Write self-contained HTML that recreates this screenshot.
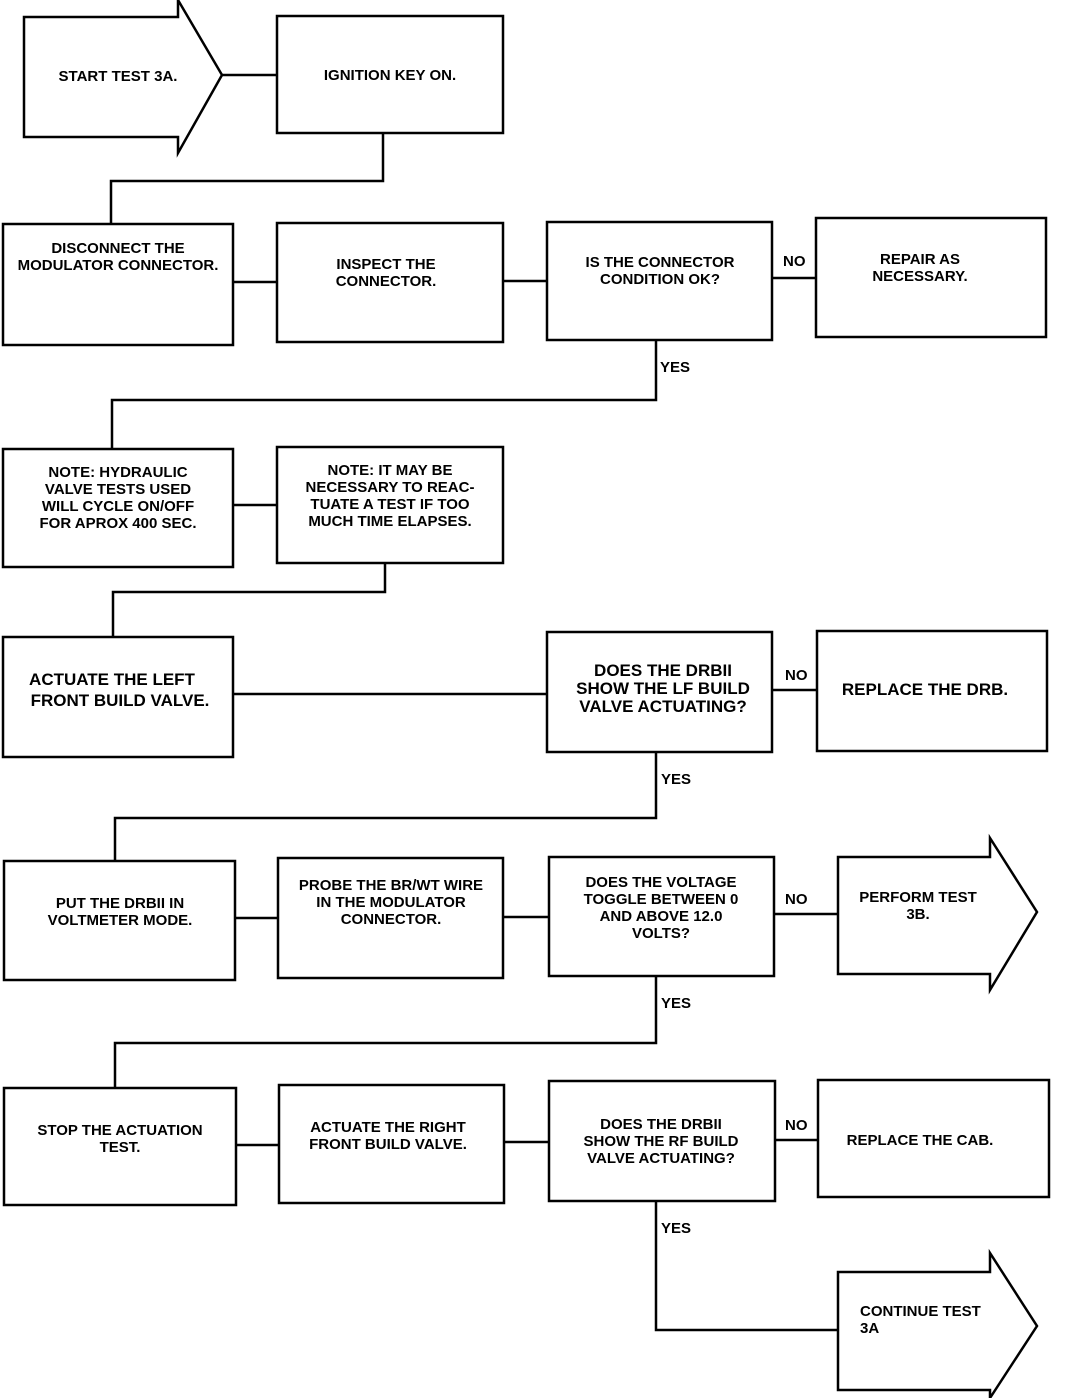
<!DOCTYPE html>
<html><head><meta charset="utf-8"><style>
html,body{margin:0;padding:0;background:#fff;}
svg{display:block}
text{font-family:"Liberation Sans",sans-serif;font-weight:bold;fill:#000;}
.s{font-size:15px;}
.b{font-size:17px;}
</style></head><body>
<svg width="1072" height="1398" viewBox="0 0 1072 1398" xmlns="http://www.w3.org/2000/svg">
<g fill="none" stroke="#000" stroke-width="2.5">
<!-- start arrow -->
<polygon points="24,17 178,17 178,0 222,75 178,153 178,137 24,137"/>
<rect x="277" y="16" width="226" height="117"/>
<line x1="222" y1="75" x2="277" y2="75"/>
<polyline points="383,133 383,181 111,181 111,224"/>
<!-- row 2 -->
<rect x="3" y="224" width="230" height="121"/>
<rect x="277" y="223" width="226" height="119"/>
<rect x="547" y="222" width="225" height="118"/>
<rect x="816" y="218" width="230" height="119"/>
<line x1="233" y1="282" x2="277" y2="282"/>
<line x1="503" y1="281" x2="547" y2="281"/>
<line x1="772" y1="278" x2="816" y2="278"/>
<polyline points="656,340 656,400 112,400 112,449"/>
<!-- row 3 -->
<rect x="3" y="449" width="230" height="118"/>
<rect x="277" y="447" width="226" height="116"/>
<line x1="233" y1="505" x2="277" y2="505"/>
<polyline points="385,563 385,592 113,592 113,637"/>
<!-- row 4 -->
<rect x="3" y="637" width="230" height="120"/>
<rect x="547" y="632" width="225" height="120"/>
<rect x="817" y="631" width="230" height="120"/>
<line x1="233" y1="694" x2="547" y2="694"/>
<line x1="772" y1="690" x2="817" y2="690"/>
<polyline points="656,752 656,818 115,818 115,861"/>
<!-- row 5 -->
<rect x="4" y="861" width="231" height="119"/>
<rect x="278" y="858" width="225" height="120"/>
<rect x="549" y="857" width="225" height="119"/>
<polygon points="838,857 990,857 990,838 1037,912 990,990 990,974 838,974"/>
<line x1="235" y1="918" x2="278" y2="918"/>
<line x1="503" y1="917" x2="549" y2="917"/>
<line x1="774" y1="914" x2="838" y2="914"/>
<polyline points="656,976 656,1043 115,1043 115,1088"/>
<!-- row 6 -->
<rect x="4" y="1088" width="232" height="117"/>
<rect x="279" y="1085" width="225" height="118"/>
<rect x="549" y="1081" width="226" height="120"/>
<rect x="818" y="1080" width="231" height="117"/>
<line x1="236" y1="1145" x2="279" y2="1145"/>
<line x1="504" y1="1142" x2="549" y2="1142"/>
<line x1="775" y1="1140" x2="818" y2="1140"/>
<polyline points="656,1201 656,1330 838,1330"/>
<polygon points="838,1272 990,1272 990,1253 1037,1326 990,1398 990,1390 838,1390"/>
</g>
<g class="s" text-anchor="middle">
<text x="118" y="81">START TEST 3A.</text>
<text x="390" y="80">IGNITION KEY ON.</text>
<text x="118" y="253">DISCONNECT THE</text>
<text x="118" y="270">MODULATOR CONNECTOR.</text>
<text x="386" y="269">INSPECT THE</text>
<text x="386" y="286">CONNECTOR.</text>
<text x="660" y="267">IS THE CONNECTOR</text>
<text x="660" y="284">CONDITION OK?</text>
<text x="920" y="264">REPAIR AS</text>
<text x="920" y="281">NECESSARY.</text>
<text x="118" y="477">NOTE: HYDRAULIC</text>
<text x="118" y="494">VALVE TESTS USED</text>
<text x="118" y="511">WILL CYCLE ON/OFF</text>
<text x="118" y="528">FOR APROX 400 SEC.</text>
<text x="390" y="475">NOTE: IT MAY BE</text>
<text x="390" y="492">NECESSARY TO REAC-</text>
<text x="390" y="509">TUATE A TEST IF TOO</text>
<text x="390" y="526">MUCH TIME ELAPSES.</text>
<text x="120" y="908">PUT THE DRBII IN</text>
<text x="120" y="925">VOLTMETER MODE.</text>
<text x="391" y="890">PROBE THE BR/WT WIRE</text>
<text x="391" y="907">IN THE MODULATOR</text>
<text x="391" y="924">CONNECTOR.</text>
<text x="661" y="887">DOES THE VOLTAGE</text>
<text x="661" y="904">TOGGLE BETWEEN 0</text>
<text x="661" y="921">AND ABOVE 12.0</text>
<text x="661" y="938">VOLTS?</text>
<text x="918" y="902">PERFORM TEST</text>
<text x="918" y="919">3B.</text>
<text x="120" y="1135">STOP THE ACTUATION</text>
<text x="120" y="1152">TEST.</text>
<text x="388" y="1132">ACTUATE THE RIGHT</text>
<text x="388" y="1149">FRONT BUILD VALVE.</text>
<text x="661" y="1129">DOES THE DRBII</text>
<text x="661" y="1146">SHOW THE RF BUILD</text>
<text x="661" y="1163">VALVE ACTUATING?</text>
<text x="920" y="1145">REPLACE THE CAB.</text>
</g>
<g class="s">
<text x="860" y="1316">CONTINUE TEST</text>
<text x="860" y="1333">3A</text>
<text x="783" y="266">NO</text>
<text x="660" y="372">YES</text>
<text x="785" y="680">NO</text>
<text x="661" y="784">YES</text>
<text x="785" y="904">NO</text>
<text x="661" y="1008">YES</text>
<text x="785" y="1130">NO</text>
<text x="661" y="1233">YES</text>
</g>
<g class="b" text-anchor="middle">
<text x="112" y="685">ACTUATE THE LEFT</text>
<text x="120" y="706">FRONT BUILD VALVE.</text>
<text x="663" y="676">DOES THE DRBII</text>
<text x="663" y="694">SHOW THE LF BUILD</text>
<text x="663" y="712">VALVE ACTUATING?</text>
<text x="925" y="695">REPLACE THE DRB.</text>
</g>
</svg>
</body></html>
